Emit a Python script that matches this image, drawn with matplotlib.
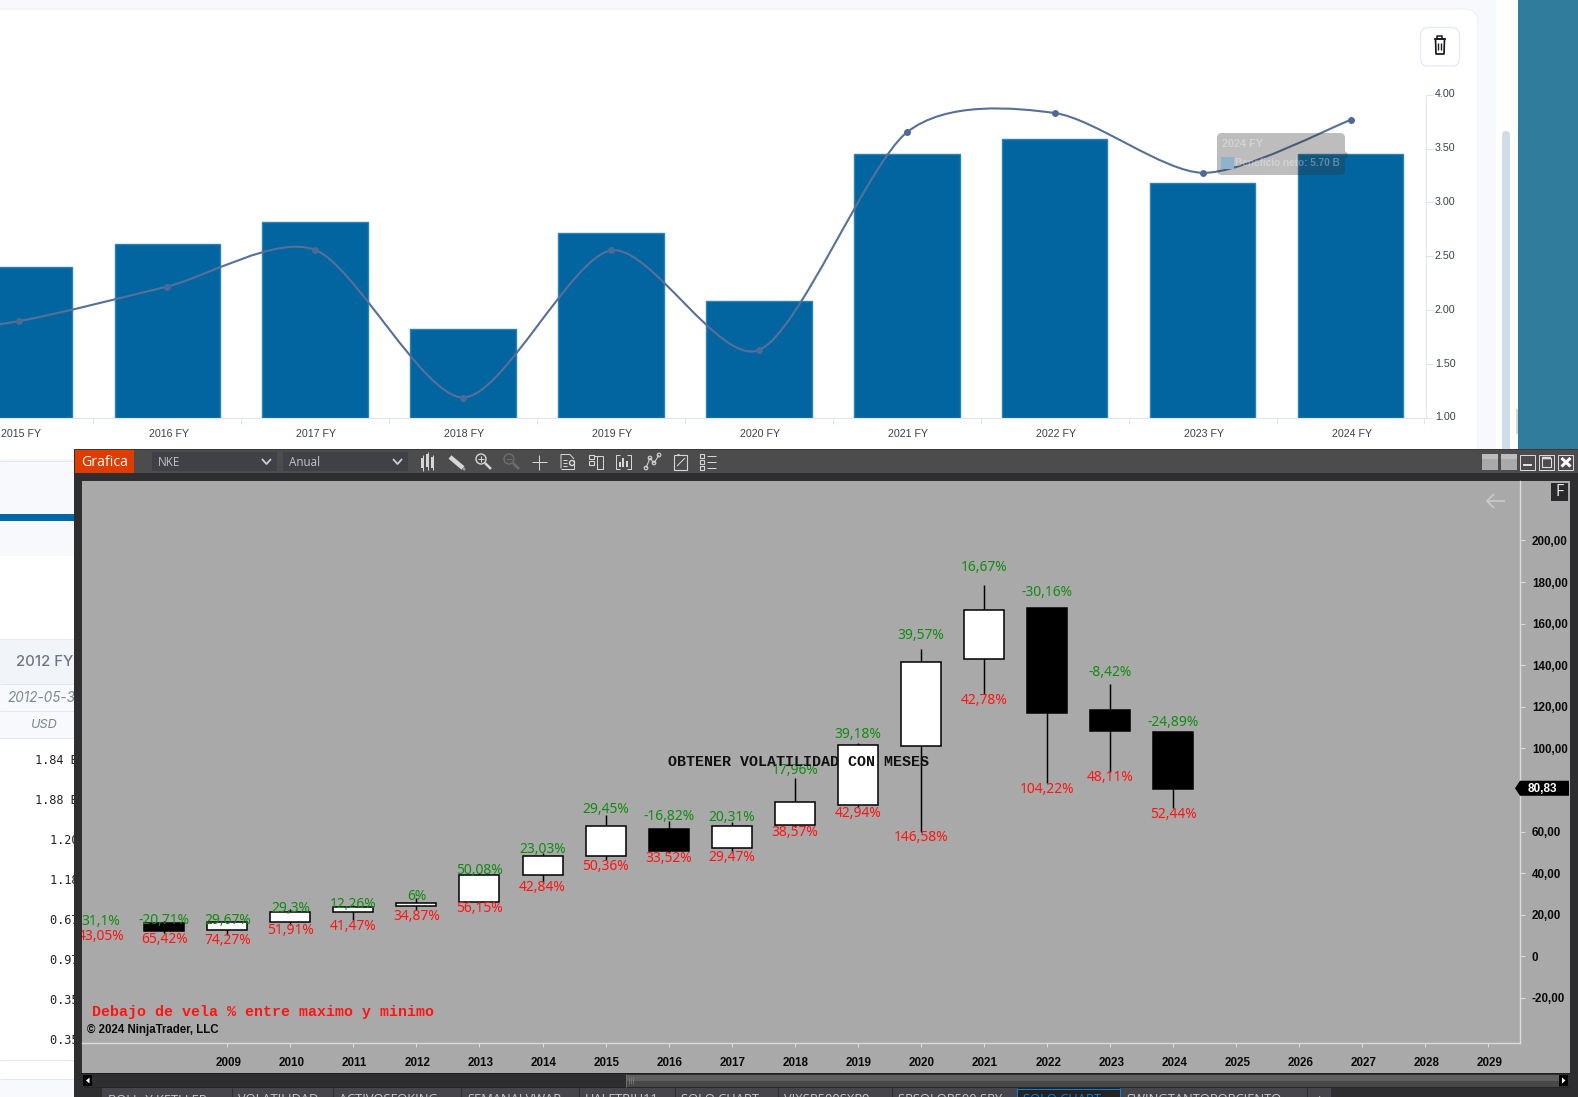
import numpy as np
import matplotlib
matplotlib.use("Agg")
import matplotlib.pyplot as plt
from matplotlib.patches import Rectangle, FancyBboxPatch, Polygon, Circle
from matplotlib.path import Path
from matplotlib.patches import PathPatch
from matplotlib.transforms import ScaledTranslation

# ---------- data: upper chart ----------
fy_years = [2015, 2016, 2017, 2018, 2019, 2020, 2021, 2022, 2023, 2024]
fy_bars = [2.405, 2.61, 2.82, 1.83, 2.72, 2.09, 3.45, 3.59, 3.18, 3.45]
line_years = [2014, 2015, 2016, 2017, 2018, 2019, 2020, 2021, 2022, 2023, 2024]
line_values = [1.72, 1.90, 2.22, 2.56, 1.19, 2.555, 1.63, 3.65, 3.83, 3.275, 3.765]
fy_yticks = [1.0, 1.5, 2.0, 2.5, 3.0, 3.5, 4.0]

# ---------- data: lower chart ----------
candle_years = list(range(2008, 2025))
opens = [15.87, 12.5, 16.35, 21.16, 24.05, 26.12, 38.96, 48.1, 61.09, 51.95, 63.01, 72.63, 101.3, 142.9, 167.58, 118.47, 107.9]
closes = [12.31, 16.5, 21.16, 23.86, 25.49, 39.25, 48.1, 62.53, 50.79, 62.53, 74.07, 101.49, 141.46, 166.62, 116.79, 108.37, 80.47]
highs = [17.0, 17.0, 22.75, 24.7, 28.19, 40.07, 49.69, 67.97, 65.08, 64.6, 85.76, 102.6, 147.81, 178.74, 167.58, 130.83, 107.9]
lows = [11.2, 10.25, 15.2, 17.46, 22.27, 25.64, 35.88, 46.32, 49.69, 50.31, 62.34, 71.8, 59.93, 125.97, 83.21, 88.79, 71.19]
label_years = list(range(2007, 2025))
label_highs = [16.7] + highs
label_lows = [12.2] + lows
green_labels = ['31,1%', '-20,71%', '29,67%', '29,3%', '12,26%', '6%', '50,08%', '23,03%', '29,45%',
                '-16,82%', '20,31%', '17,96%', '39,18%', '39,57%', '16,67%', '-30,16%', '-8,42%', '-24,89%']
red_labels = ['43,05%', '65,42%', '74,27%', '51,91%', '41,47%', '34,87%', '56,15%', '42,84%', '50,36%',
              '33,52%', '29,47%', '38,57%', '42,94%', '146,58%', '42,78%', '104,22%', '48,11%', '52,44%']
axis_years = list(range(2009, 2030))
price_ticks = list(range(-20, 201, 20))
last_price = 80.83

# ---------- left table ----------
table_values = ['1.84 B', '1.88 B', '1.20 B', '1.18 B', '0.67 B', '0.97 B', '0.35 B', '0.35 B']
tab_names = ['BOLL_Y KETLLER', 'VOLATILIDAD', 'ACTIVOSFOKING', 'SEMANALVWAP', 'HALFTRIU11',
             'SOLO CHART', 'VIXSP500SXP9', 'SPSOLOP500 SPY', 'SOLO CHART', 'SWINGTANTOPORCIENTO', '+']

W, H = 1578, 1097
fig = plt.figure(figsize=(W / 100, H / 100), dpi=100, facecolor='white')
PX = 0.72


def axpx(x0, y0, x1, y1, z):
    return fig.add_axes([x0 / W, 1 - y1 / H, (x1 - x0) / W, (y1 - y0) / H], zorder=z)


def layer(z):
    a = fig.add_axes([0, 0, 1, 1], zorder=z)
    a.set_xlim(0, W)
    a.set_ylim(H, 0)
    a.axis('off')
    a.patch.set_alpha(0)
    return a


def R(a, x0, y0, x1, y1, c, **k):
    a.add_patch(Rectangle((x0, y0), x1 - x0, y1 - y0, facecolor=c, edgecolor=k.pop('ec', 'none'),
                          linewidth=k.pop('lw', 0), **k))


def RR(a, x0, y0, x1, y1, r, c, **k):
    a.add_patch(FancyBboxPatch((x0 + r, y0 + r), x1 - x0 - 2 * r, y1 - y0 - 2 * r,
                               boxstyle=f'round,pad={r},rounding_size={r}', facecolor=c,
                               edgecolor=k.pop('ec', 'none'), linewidth=k.pop('lw', 0), **k))


def L(a, xs, ys, c, lw=1.0, **k):
    a.plot(xs, ys, color=c, lw=lw * PX, solid_capstyle=k.pop('cap', 'butt'), **k)


def nudge(labels, dx, dy):
    off = ScaledTranslation(dx / 100, -dy / 100, fig.dpi_scale_trans)
    for t in labels:
        t.set_transform(t.get_transform() + off)


# ---------- page behind ----------
bg = layer(0)
R(bg, 0, 0, W, H, 'white')
R(bg, 0, 0, 1496, 461, '#f7f9fc')
RR(bg, -40, 9, 1478, 460, 14, 'white', ec='#eef1f6', lw=0.8)
R(bg, 1496, 0, 1518, 460, 'white')
R(bg, 1518, 0, W, 460, '#2f7c9c')
RR(bg, 1502, 131, 1510, 470, 4, '#d0dce6')
R(bg, 1516, 409, 1518, 434, '#d5d5d5')
RR(bg, 1420.5, 27.5, 1459.5, 66, 8, 'white', ec='#e4e9f2', lw=0.9)
# trash icon
tc = '#14181f'
L(bg, [1434, 1446], [38.5, 38.5], tc, 1.6)
L(bg, [1437.5, 1437.5, 1442.5, 1442.5], [38.5, 36, 36, 38.5], tc, 1.5)
L(bg, [1435.5, 1436, 1444, 1444.5, 1435.5], [39, 54, 54, 39, 39], tc, 1.7)
L(bg, [1438.5, 1438.5], [43, 50], tc, 1.4)
L(bg, [1441.5, 1441.5], [43, 50], tc, 1.4)

R(bg, 0, 461, 80, 556, '#f7f9fc')
L(bg, [0, 80], [460.7, 460.7], '#e6e9ee', 1)
R(bg, 0, 514, 80, 521, '#0068a5')
R(bg, 0, 639, 80, 684, '#f1f4f9')
R(bg, 0, 685, 80, 738, '#f7f9fc')
for y, c in [(639, '#e6eaf0'), (684, '#e3e7ee'), (711, '#e3e7ee'), (738, '#e3e7ee'), (1060, '#e3e7ee'), (1079, '#e3e7ee')]:
    L(bg, [0, 80], [y, y], c, 1)
R(bg, 0, 1080, 80, H, '#f7f9fc')
bg.text(16, 662.5, '2012 FY', family='Inter', fontsize=10.7, fontweight='medium', color='#6b7686', va='center')
bg.text(8, 698, '2012-05-31', family='Inter', fontsize=9.7, style='italic', color='#7d8794', va='center')
bg.text(30, 725, 'USD', family='Inter', fontsize=9.2, style='italic', color='#7d8794', va='center')
for i, t in enumerate(table_values):
    xt = 35 if i < 2 else 50
    bg.text(xt, 760 + i * 40, t, family='DejaVu Sans Mono', fontsize=8.6, color='#222222', va='center')

# ---------- upper chart ----------
ax = axpx(0, 94.7, 1425.7, 418, 1)
ax.patch.set_alpha(0)
ax.set_xlim(2024 + (0 - 1350.5) / 147.9, 2024 + (1425.7 - 1350.5) / 147.9)
ax.set_ylim(1, 4)
ax.bar(fy_years, np.array(fy_bars) - 1, bottom=1, width=105.5 / 147.9, color='#02659f', edgecolor='#2d82b3', linewidth=1.0)
lx, ly = np.array(line_years, float), np.array(line_values, float)
verts, codes = [(lx[0], ly[0])], [Path.MOVETO]
for i in range(len(lx) - 1):
    p0 = np.array([lx[max(i - 1, 0)], ly[max(i - 1, 0)]])
    p1 = np.array([lx[i], ly[i]])
    p2 = np.array([lx[i + 1], ly[i + 1]])
    p3 = np.array([lx[min(i + 2, len(lx) - 1)], ly[min(i + 2, len(lx) - 1)]])
    verts += [tuple(p1 + (p2 - p0) / 7.5), tuple(p2 - (p3 - p1) / 7.5), tuple(p2)]
    codes += [Path.CURVE4] * 3
ax.add_patch(PathPatch(Path(verts, codes), facecolor='none', edgecolor='#56709a', linewidth=1.5, zorder=3))
ax.plot(lx, ly, 'o', color='#4d6a96', markersize=5, zorder=4, markeredgewidth=0)
for s in ['top', 'left']:
    ax.spines[s].set_visible(False)
for s in ['right', 'bottom']:
    ax.spines[s].set_color('#e0e6f1')
ax.yaxis.tick_right()
ax.set_yticks(fy_yticks, [f'{v:.2f}' for v in fy_yticks])
ax.set_xticks(fy_years)
ax.set_xticklabels([f'{y} FY' for y in fy_years])
ax.tick_params(axis='y', length=6.5 * PX, width=0.8, color='#e0e6f1', pad=2, labelsize=7.7, labelcolor='#39404c')
ax.tick_params(axis='x', length=0, pad=8, labelsize=7.7, labelcolor='#39404c')
ax.set_xticks([y + 0.5 for y in fy_years], minor=True)
ax.tick_params(axis='x', which='minor', length=6 * PX, width=0.8, color='#e0e6f1')
for t in ax.get_xticklabels() + ax.get_yticklabels():
    t.set_family('Liberation Sans')
nudge(ax.get_xticklabels(), 1.2, 0)
nudge(ax.get_yticklabels(), 0, -1.5)

# tooltip
tip = layer(1.5)
RR(tip, 1217, 133, 1345, 175, 5, (0.2, 0.2, 0.2, 0.32))
tip.add_patch(Polygon([(1345, 151), (1349, 155), (1345, 159)], facecolor=(0.2, 0.2, 0.2, 0.32)))
tip.text(1222, 144, '2024 FY', family='Liberation Sans', fontsize=7.8, fontweight='bold', color=(1, 1, 1, 0.32), va='center')
R(tip, 1221, 157, 1234, 169, '#8fb3cc')
tip.text(1235, 162.5, 'Beneficio neto: 5.70 B', family='Liberation Sans', fontsize=7.2, fontweight='bold', color=(1, 1, 1, 0.32), va='center')

# ---------- trading window ----------
win = layer(2)
R(win, 74, 449, W, H, '#2e2e30')
R(win, 74, 449, W, 450, '#3a3a3c')
R(win, 75, 450, W, 473, '#4c4c4c')
R(win, 75, 450, 134, 473, '#e03c00')
win.text(81, 463, 'Grafica', family='Open Sans', fontsize=10.2, color='white', va='center')
for x0, name in [(152, 'NKE'), (283, 'Anual')]:
    R(win, x0, 452, x0 + 125, 471, '#404047')
    win.text(x0 + 6, 463, name, family='Open Sans', fontsize=8.4, color='#c4c4c8', va='center')
    L(win, [x0 + 110, x0 + 114.5, x0 + 119], [459, 464, 459], '#d0d0d0', 1.8)
ic = '#d6d6d6'
# candle icon
for x, y0, y1, t0, t1 in [(423, 458, 468, 455, 471), (428, 454, 467, 452, 470), (433, 457, 468, 455, 470)]:
    R(win, x - 1.5, y0, x + 1.5, y1, ic)
    L(win, [x, x], [t0, t1], ic, 1)
# pencil
L(win, [450, 463], [457, 468], ic, 4.5)
L(win, [463, 465], [468, 470], '#9a9a9a', 2.5)
# zoom +/-
for xc, c, plus in [(483, ic, True), (511, '#6e6e6e', False)]:
    win.add_patch(Circle((xc - 2, 459), 5, facecolor='none', edgecolor=c, linewidth=1))
    L(win, [xc - 5, xc + 1], [459, 459], c, 1)
    if plus:
        L(win, [xc - 2, xc - 2], [456, 462], c, 1)
    L(win, [xc + 2, xc + 8], [463, 469], c, 2.5)
L(win, [532, 547], [462, 462], ic, 1)
L(win, [539.5, 539.5], [454.5, 469.5], ic, 1)
# document
L(win, [561, 569, 574, 574], [468.5, 468.5, 468.5, 460], ic, 1)
L(win, [561, 561, 570, 574], [468.5, 454.5, 454.5, 459], ic, 1)
for y in [460, 463, 466]:
    L(win, [563, 567], [y, y], ic, 1)
win.add_patch(Circle((572, 463), 2.5, facecolor='#4c4c4c', edgecolor=ic, linewidth=1))
# frame boxes
for y in [455, 461]:
    win.add_patch(Rectangle((589, y), 5, 4, facecolor='none', edgecolor=ic, linewidth=0.8))
L(win, [594, 603, 603, 597, 597], [455.5, 455.5, 469, 469, 456], ic, 1)
# bars in bracket
L(win, [620, 616, 616, 620], [455, 455, 469, 469], ic, 1)
L(win, [627, 631, 631, 627], [455, 455, 469, 469], ic, 1)
for x, y0 in [(620, 462), (623.5, 458), (627, 461)]:
    L(win, [x, x], [y0, 467], ic, 2)
# nodes
pts = [(646, 468), (650, 458), (654, 463), (659, 455)]
L(win, [p[0] for p in pts], [p[1] for p in pts], ic, 1)
for p in pts:
    win.add_patch(Circle(p, 1.8, facecolor='#4c4c4c', edgecolor=ic, linewidth=0.8))
# crossed doc
win.add_patch(Rectangle((674, 455), 13, 14.5, facecolor='none', edgecolor=ic, linewidth=0.8))
L(win, [677, 685], [466, 458], ic, 1)
L(win, [677, 679], [453.5, 453.5], ic, 1)
# list
for y in [456, 462, 468]:
    win.add_patch(Rectangle((700.5, y - 2), 4, 4, facecolor='none', edgecolor=ic, linewidth=0.8))
    L(win, [707, 716], [y, y], ic, 1)

# window buttons
for x0 in [1482, 1501]:
    R(win, x0, 454, x0 + 16, 470, '#aaaaaa')
    R(win, x0, 454, x0 + 16, 459, '#bdbdbd')
for x0 in [1520, 1539, 1558]:
    R(win, x0, 454.5, x0 + 15, 469.5, '#4c4c4c', ec='#dddddd', lw=0.7)
L(win, [1523, 1532], [465, 465], '#e0e0e0', 2)
R(win, 1542.5, 458, 1551.5, 466.5, '#4c4c4c', ec='#dddddd', lw=0.8)
L(win, [1542.5, 1551.5], [458, 458], '#dddddd', 2.5)
L(win, [1561.5, 1570.5], [458, 466.5], 'white', 3)
L(win, [1561.5, 1570.5], [466.5, 458], 'white', 3)

# grey panel and lower frame
R(win, 82, 481, 1570, 1073, '#a9a9a9')
R(win, 81.5, 1073, 1570, 1074, '#1e1e1e')
R(win, 84, 1087, 1570, 1088, '#262628')
R(win, 626, 1075, 1559, 1081, '#5f5f5f')
R(win, 626, 1081, 1559, 1087, '#484848')
L(win, [626, 626], [1074, 1087], '#6e6e6e', 1)
for x in [629, 631, 633]:
    L(win, [x, x], [1077, 1084], '#7c7c7c', 0.8)
R(win, 83, 1075, 92, 1086, 'black')
win.add_patch(Polygon([(89.5, 1077.5), (89.5, 1083.5), (86, 1080.5)], facecolor='white'))
R(win, 1559, 1075, 1568, 1086, 'black')
win.add_patch(Polygon([(1562, 1077.5), (1562, 1083.5), (1565.5, 1080.5)], facecolor='white'))

# tabs
tab_edges = [102, 232, 333, 461, 579, 675, 778, 892, 1017, 1120, 1307, 1331]
for i, name in enumerate(tab_names):
    x0, x1 = tab_edges[i], tab_edges[i + 1]
    active = i == 8
    R(win, x0, 1088, x1, H, '#232326' if active else '#45454b')
    L(win, [x1, x1], [1088, H], '#2e2e30', 1)
    if active:
        L(win, [x0, x1], [1088.5, 1088.5], '#0a84d8', 1)
        L(win, [x0, x0], [1088, H], '#0a84d8', 1)
        L(win, [x1, x1], [1088, H], '#0a84d8', 1)
    xt = x0 + 6 if name != '+' else x0 + 8
    win.text(xt, 1093, name, family='Open Sans', fontsize=9.3, color='#0a84d8' if active else '#c9c9cd',
             va='top', ha='left', clip_on=True)

# ---------- lower chart ----------
bx = axpx(82, 481, 1520, 1043.3, 3)
bx.set_facecolor('#a9a9a9')
bx.set_xlim(2009 + (82 - 227.3) / 63.05, 2009 + (1520 - 227.3) / 63.05)
bx.set_ylim((956.3 - 1043.3) / 2.079, (956.3 - 481) / 2.079)
bx.vlines(candle_years, lows, highs, color='black', linewidth=1.05, zorder=2)
for y, o, c in zip(candle_years, opens, closes):
    up = c >= o
    bx.bar(y, abs(c - o), bottom=min(o, c), width=40 / 63.05, facecolor='white' if up else 'black',
           edgecolor='black', linewidth=1.1, zorder=3)
for y, hi, lo, g, r in zip(label_years, label_highs, label_lows, green_labels, red_labels):
    bx.annotate(g, (y, hi * 1.05), xytext=(0, -1.8 * PX), textcoords='offset points', family='Noto Sans', fontsize=10,
                color='#118c11', ha='center', va='center', zorder=5, annotation_clip=False, clip_on=True)
    bx.annotate(r, (y, lo), xytext=(0, -6 * PX), textcoords='offset points', family='Noto Sans', fontsize=10,
                color='#ff1414', ha='center', va='center', zorder=5, annotation_clip=False, clip_on=True)
for s in ['top', 'left']:
    bx.spines[s].set_visible(False)
for s in ['right', 'bottom']:
    bx.spines[s].set_color('#dcdcdc')
    bx.spines[s].set_linewidth(1.0)
bx.yaxis.tick_right()
bx.set_yticks(price_ticks, [f'{v},00' if v != 0 else '0' for v in price_ticks])
bx.set_xticks(axis_years, [str(y) for y in axis_years])
bx.tick_params(axis='y', length=5 * PX, width=0.8, color='#dcdcdc', pad=5, labelsize=8.4, labelcolor='#0a0a0a')
bx.tick_params(axis='x', length=4 * PX, width=0.8, color='#dcdcdc', pad=7, labelsize=8.4, labelcolor='#0a0a0a')
for t in bx.get_xticklabels() + bx.get_yticklabels():
    t.set_family('Liberation Sans')
    t.set_fontweight('bold')
nudge(bx.get_xticklabels(), 1.2, 0)

ov = layer(4)
ov.text(799, 761.5, 'OBTENER VOLATILIDAD CON MESES', family='Liberation Mono', fontweight='bold', fontsize=10.8,
        color='#111111', ha='center', va='center')
ov.text(92, 1012, 'Debajo de vela % entre maximo y minimo', family='Liberation Mono', fontweight='bold', fontsize=10.8,
        color='#ff1414', va='center')
ov.text(87, 1030, '© 2024 NinjaTrader, LLC', family='Liberation Sans', fontweight='bold', fontsize=8.3,
        color='#0a0a0a', va='center')
# last price tag
tag_y = 956.3 - last_price * 2.079
ov.add_patch(Polygon([(1515, tag_y), (1520, tag_y - 7.5), (1569, tag_y - 7.5), (1569, tag_y + 7.5), (1520, tag_y + 7.5)], facecolor='black'))
ov.text(1528, tag_y + 1, f'{last_price:.2f}'.replace('.', ','), family='Liberation Sans', fontweight='bold', fontsize=8.5,
        color='white', va='center')
R(ov, 1551, 483, 1568, 501, '#2a2a2c')
ov.text(1559.5, 492, 'F', family='Open Sans', fontsize=11.5, color='#e8e8e8', ha='center', va='center')
L(ov, [1487, 1505], [501, 501], '#c8c8c8', 1.8)
L(ov, [1494, 1487, 1494], [494, 501, 508], '#c8c8c8', 1.8)

fig.savefig('out.png', dpi=100, facecolor='white')
